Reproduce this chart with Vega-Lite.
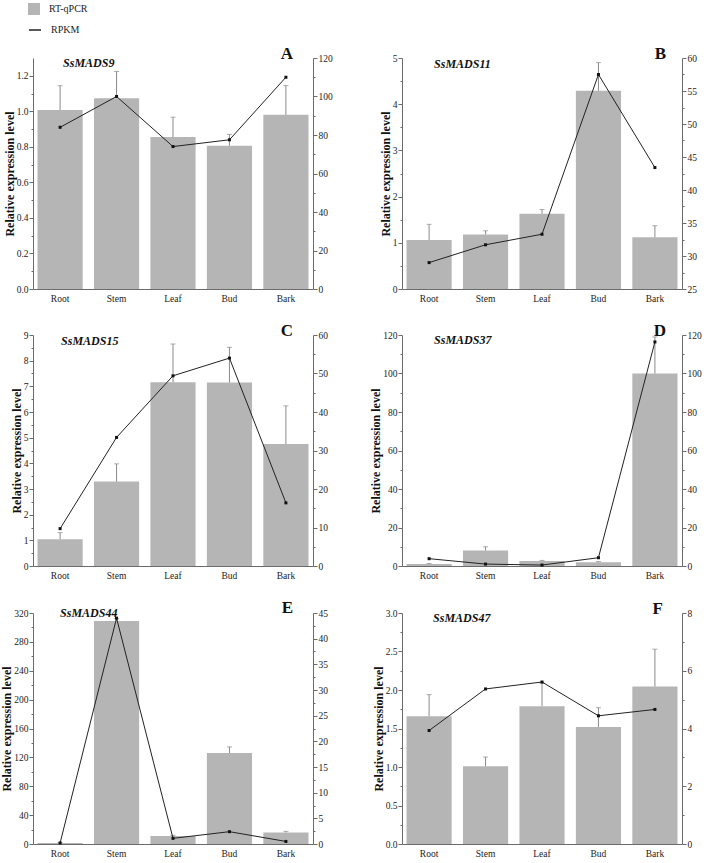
{
  "$schema": "https://vega.github.io/schema/vega-lite/v6.json",
  "padding": {"left": 0, "top": 3, "right": 2, "bottom": 4},
  "background": "white",
  "config": {
    "font": "Liberation Serif",
    "view": {"stroke": null},
    "axis": {"domainColor": "#6b6b6b", "tickColor": "#6b6b6b", "labelFont": "Liberation Serif", "labelFontSize": 9.5, "labelColor": "#222", "grid": false, "tickSize": 3, "labelPadding": 1, "titleFont": "Liberation Serif", "labelOverlap": false, "labelFlush": false},
    "axisY": {"titleFontSize": 12, "titleFontWeight": "bold", "titleColor": "#111", "titlePadding": 0},
    "axisX": {"ticks": false, "labelPadding": 4, "labelAngle": 0},
    "title": {"font": "Liberation Serif", "fontSize": 17, "fontWeight": "bold", "color": "#111", "anchor": "end", "offset": -10, "frame": "group"},
    "legend": {"labelFont": "Liberation Serif", "labelFontSize": 10, "labelColor": "#222"}
  },
  "datasets": {
    "expr": [
      {"panel": "A", "tissue": "Root", "rq": 1.007, "err": 1.144, "rpkm": 84},
      {"panel": "A", "tissue": "Stem", "rq": 1.074, "err": 1.224, "rpkm": 100},
      {"panel": "A", "tissue": "Leaf", "rq": 0.855, "err": 0.967, "rpkm": 74},
      {"panel": "A", "tissue": "Bud", "rq": 0.806, "err": 0.87, "rpkm": 77.5},
      {"panel": "A", "tissue": "Bark", "rq": 0.98, "err": 1.145, "rpkm": 110},
      {"panel": "B", "tissue": "Root", "rq": 1.06, "err": 1.4, "rpkm": 29.0},
      {"panel": "B", "tissue": "Stem", "rq": 1.18, "err": 1.26, "rpkm": 31.7},
      {"panel": "B", "tissue": "Leaf", "rq": 1.63, "err": 1.72, "rpkm": 33.3},
      {"panel": "B", "tissue": "Bud", "rq": 4.29, "err": 4.9, "rpkm": 57.5},
      {"panel": "B", "tissue": "Bark", "rq": 1.12, "err": 1.37, "rpkm": 43.4},
      {"panel": "C", "tissue": "Root", "rq": 1.04, "err": 1.3, "rpkm": 9.7},
      {"panel": "C", "tissue": "Stem", "rq": 3.29, "err": 3.98, "rpkm": 33.4},
      {"panel": "C", "tissue": "Leaf", "rq": 7.16, "err": 8.65, "rpkm": 49.4},
      {"panel": "C", "tissue": "Bud", "rq": 7.15, "err": 8.52, "rpkm": 54.0},
      {"panel": "C", "tissue": "Bark", "rq": 4.75, "err": 6.24, "rpkm": 16.4},
      {"panel": "D", "tissue": "Root", "rq": 1.0, "err": 1.3, "rpkm": 3.8},
      {"panel": "D", "tissue": "Stem", "rq": 8.1, "err": 10.0, "rpkm": 1.0},
      {"panel": "D", "tissue": "Leaf", "rq": 2.6, "err": 2.9, "rpkm": 0.5},
      {"panel": "D", "tissue": "Bud", "rq": 1.9, "err": 2.3, "rpkm": 4.3},
      {"panel": "D", "tissue": "Bark", "rq": 100, "err": 119, "rpkm": 116.4},
      {"panel": "E", "tissue": "Root", "rq": 1.5, "err": 1.8, "rpkm": 0.2},
      {"panel": "E", "tissue": "Stem", "rq": 309, "err": 312, "rpkm": 44.0},
      {"panel": "E", "tissue": "Leaf", "rq": 11, "err": 12, "rpkm": 1.1},
      {"panel": "E", "tissue": "Bud", "rq": 126, "err": 134.5, "rpkm": 2.4},
      {"panel": "E", "tissue": "Bark", "rq": 16, "err": 17.5, "rpkm": 0.5},
      {"panel": "F", "tissue": "Root", "rq": 1.66, "err": 1.94, "rpkm": 3.93},
      {"panel": "F", "tissue": "Stem", "rq": 1.01, "err": 1.13, "rpkm": 5.37},
      {"panel": "F", "tissue": "Leaf", "rq": 1.79, "err": 2.09, "rpkm": 5.61},
      {"panel": "F", "tissue": "Bud", "rq": 1.52, "err": 1.77, "rpkm": 4.44},
      {"panel": "F", "tissue": "Bark", "rq": 2.045, "err": 2.53, "rpkm": 4.66}
    ]
  },
  "data": {"name": "expr"},
  "columns": 2,
  "spacing": {"row": 19, "column": 36},
  "concat": [
    {
      "width": 280, "height": 231,
      "title": {"text": "A", "dx": -20},
      "transform": [{"filter": "datum.panel == 'A'"}],
      "encoding": {"x": {"field": "tissue", "type": "nominal", "sort": ["Root", "Stem", "Leaf", "Bud", "Bark"], "scale": {"paddingInner": 0.2, "paddingOuter": 0.08}, "axis": {"title": null}}},
      "layer": [
        {"mark": {"type": "bar"}, "encoding": {"y": {"field": "rq", "type": "quantitative", "scale": {"domain": [0, 1.3], "nice": false}, "axis": {"title": "Relative expression level", "labelOverlap": false, "values": [0, 0.1, 0.2, 0.3, 0.4, 0.5, 0.6, 0.7, 0.8, 0.9, 1.0, 1.1, 1.2], "labelExpr": "round(datum.value*10)%2==0 ? format(datum.value,'.1f') : ''", "tickSize": {"condition": {"test": "round(datum.value*10)%2==0", "value": 4}, "value": 2}}}, "fill": {"datum": "RT-qPCR", "scale": {"range": ["#b5b5b5"]}, "legend": {"orient": "none", "legendX": -5, "legendY": -55, "title": null, "symbolType": "square", "symbolSize": 144, "symbolStrokeWidth": 0, "labelOffset": 9}}}},
        {"mark": {"type": "rule", "color": "#8a8a8a", "strokeWidth": 1}, "encoding": {"y": {"field": "rq", "type": "quantitative", "scale": {"domain": [0, 1.3], "nice": false}, "axis": null}, "y2": {"field": "err"}}},
        {"mark": {"type": "tick", "color": "#8a8a8a", "thickness": 1, "size": 5}, "encoding": {"y": {"field": "err", "type": "quantitative", "scale": {"domain": [0, 1.3], "nice": false}, "axis": null}}},
        {"transform": [{"filter": "datum.tissue == 'Root'"}], "mark": {"type": "text", "text": "SsMADS9", "fontStyle": "italic", "fontWeight": "bold", "fontSize": 12, "align": "left", "baseline": "middle", "dx": 3, "color": "#111"}, "encoding": {"y": {"datum": 1.27, "scale": {"domain": [0, 1.3], "nice": false}, "axis": null}}},
        {
          "encoding": {"y": {"field": "rpkm", "type": "quantitative", "scale": {"domain": [0, 120], "nice": false}, "axis": {"orient": "right", "title": null, "labelOverlap": false, "values": [0, 10, 20, 30, 40, 50, 60, 70, 80, 90, 100, 110, 120], "labelExpr": "datum.value%20==0 ? datum.label : ''", "tickSize": {"condition": {"test": "datum.value%20==0", "value": 4}, "value": 2}}}},
          "layer": [
            {"mark": {"type": "line", "color": "#222", "strokeWidth": 1}, "encoding": {"stroke": {"datum": "RPKM", "scale": {"range": ["#222"]}, "legend": {"orient": "none", "legendX": -5, "legendY": -35, "title": null, "symbolType": "stroke", "symbolSize": 144, "symbolStrokeWidth": 1.5, "labelOffset": 9}}}},
            {"mark": {"type": "point", "shape": "square", "filled": true, "size": 9, "color": "#111", "opacity": 1}}
          ]
        }
      ],
      "resolve": {"scale": {"y": "independent"}}
    },
    {
      "width": 280, "height": 231,
      "title": {"text": "B", "dx": -16},
      "transform": [{"filter": "datum.panel == 'B'"}],
      "encoding": {"x": {"field": "tissue", "type": "nominal", "sort": ["Root", "Stem", "Leaf", "Bud", "Bark"], "scale": {"paddingInner": 0.2, "paddingOuter": 0.08}, "axis": {"title": null}}},
      "layer": [
        {"mark": {"type": "bar"}, "encoding": {"y": {"field": "rq", "type": "quantitative", "scale": {"domain": [0, 5], "nice": false}, "axis": {"title": "Relative expression level", "labelOverlap": false, "values": [0, 0.5, 1, 1.5, 2, 2.5, 3, 3.5, 4, 4.5, 5], "labelExpr": "datum.value%1==0 ? format(datum.value,'d') : ''", "tickSize": {"condition": {"test": "datum.value%1==0", "value": 4}, "value": 2}}}, "fill": {"datum": "RT-qPCR"}}},
        {"mark": {"type": "rule", "color": "#8a8a8a", "strokeWidth": 1}, "encoding": {"y": {"field": "rq", "type": "quantitative", "scale": {"domain": [0, 5], "nice": false}, "axis": null}, "y2": {"field": "err"}}},
        {"mark": {"type": "tick", "color": "#8a8a8a", "thickness": 1, "size": 5}, "encoding": {"y": {"field": "err", "type": "quantitative", "scale": {"domain": [0, 5], "nice": false}, "axis": null}}},
        {"transform": [{"filter": "datum.tissue == 'Root'"}], "mark": {"type": "text", "text": "SsMADS11", "fontStyle": "italic", "fontWeight": "bold", "fontSize": 12, "align": "left", "baseline": "middle", "dx": 5, "color": "#111"}, "encoding": {"y": {"datum": 4.87, "scale": {"domain": [0, 5], "nice": false}, "axis": null}}},
        {
          "encoding": {"y": {"field": "rpkm", "type": "quantitative", "scale": {"domain": [25, 60], "nice": false, "zero": false}, "axis": {"orient": "right", "title": null, "labelOverlap": false, "values": [25, 27.5, 30, 32.5, 35, 37.5, 40, 42.5, 45, 47.5, 50, 52.5, 55, 57.5, 60], "labelExpr": "datum.value%5==0 ? format(datum.value,'d') : ''", "tickSize": {"condition": {"test": "datum.value%5==0", "value": 4}, "value": 2}}}},
          "layer": [
            {"mark": {"type": "line", "color": "#222", "strokeWidth": 1}, "encoding": {"stroke": {"datum": "RPKM"}}},
            {"mark": {"type": "point", "shape": "square", "filled": true, "size": 9, "color": "#111", "opacity": 1}}
          ]
        }
      ],
      "resolve": {"scale": {"y": "independent"}}
    },
    {
      "width": 280, "height": 231,
      "title": {"text": "C", "dx": -20},
      "transform": [{"filter": "datum.panel == 'C'"}],
      "encoding": {"x": {"field": "tissue", "type": "nominal", "sort": ["Root", "Stem", "Leaf", "Bud", "Bark"], "scale": {"paddingInner": 0.2, "paddingOuter": 0.08}, "axis": {"title": null}}},
      "layer": [
        {"mark": {"type": "bar"}, "encoding": {"y": {"field": "rq", "type": "quantitative", "scale": {"domain": [0, 9], "nice": false}, "axis": {"title": "Relative expression level", "labelOverlap": false, "values": [0, 0.5, 1, 1.5, 2, 2.5, 3, 3.5, 4, 4.5, 5, 5.5, 6, 6.5, 7, 7.5, 8, 8.5, 9], "labelExpr": "datum.value%1==0 ? format(datum.value,'d') : ''", "tickSize": {"condition": {"test": "datum.value%1==0", "value": 4}, "value": 2}}}, "fill": {"datum": "RT-qPCR"}}},
        {"mark": {"type": "rule", "color": "#8a8a8a", "strokeWidth": 1}, "encoding": {"y": {"field": "rq", "type": "quantitative", "scale": {"domain": [0, 9], "nice": false}, "axis": null}, "y2": {"field": "err"}}},
        {"mark": {"type": "tick", "color": "#8a8a8a", "thickness": 1, "size": 5}, "encoding": {"y": {"field": "err", "type": "quantitative", "scale": {"domain": [0, 9], "nice": false}, "axis": null}}},
        {"transform": [{"filter": "datum.tissue == 'Root'"}], "mark": {"type": "text", "text": "SsMADS15", "fontStyle": "italic", "fontWeight": "bold", "fontSize": 12, "align": "left", "baseline": "middle", "dx": 1, "color": "#111"}, "encoding": {"y": {"datum": 8.78, "scale": {"domain": [0, 9], "nice": false}, "axis": null}}},
        {
          "encoding": {"y": {"field": "rpkm", "type": "quantitative", "scale": {"domain": [0, 60], "nice": false}, "axis": {"orient": "right", "title": null, "labelOverlap": false, "values": [0, 5, 10, 15, 20, 25, 30, 35, 40, 45, 50, 55, 60], "labelExpr": "datum.value%10==0 ? datum.label : ''", "tickSize": {"condition": {"test": "datum.value%10==0", "value": 4}, "value": 2}}}},
          "layer": [
            {"mark": {"type": "line", "color": "#222", "strokeWidth": 1}, "encoding": {"stroke": {"datum": "RPKM"}}},
            {"mark": {"type": "point", "shape": "square", "filled": true, "size": 9, "color": "#111", "opacity": 1}}
          ]
        }
      ],
      "resolve": {"scale": {"y": "independent"}}
    },
    {
      "width": 280, "height": 231,
      "title": {"text": "D", "dx": -16},
      "transform": [{"filter": "datum.panel == 'D'"}],
      "encoding": {"x": {"field": "tissue", "type": "nominal", "sort": ["Root", "Stem", "Leaf", "Bud", "Bark"], "scale": {"paddingInner": 0.2, "paddingOuter": 0.08}, "axis": {"title": null}}},
      "layer": [
        {"mark": {"type": "bar"}, "encoding": {"y": {"field": "rq", "type": "quantitative", "scale": {"domain": [0, 120], "nice": false}, "axis": {"title": "Relative expression level", "labelOverlap": false, "values": [0, 10, 20, 30, 40, 50, 60, 70, 80, 90, 100, 110, 120], "labelExpr": "datum.value%20==0 ? datum.label : ''", "tickSize": {"condition": {"test": "datum.value%20==0", "value": 4}, "value": 2}}}, "fill": {"datum": "RT-qPCR"}}},
        {"mark": {"type": "rule", "color": "#8a8a8a", "strokeWidth": 1}, "encoding": {"y": {"field": "rq", "type": "quantitative", "scale": {"domain": [0, 120], "nice": false}, "axis": null}, "y2": {"field": "err"}}},
        {"mark": {"type": "tick", "color": "#8a8a8a", "thickness": 1, "size": 5}, "encoding": {"y": {"field": "err", "type": "quantitative", "scale": {"domain": [0, 120], "nice": false}, "axis": null}}},
        {"transform": [{"filter": "datum.tissue == 'Root'"}], "mark": {"type": "text", "text": "SsMADS37", "fontStyle": "italic", "fontWeight": "bold", "fontSize": 12, "align": "left", "baseline": "middle", "dx": 5, "color": "#111"}, "encoding": {"y": {"datum": 117.5, "scale": {"domain": [0, 120], "nice": false}, "axis": null}}},
        {
          "encoding": {"y": {"field": "rpkm", "type": "quantitative", "scale": {"domain": [0, 120], "nice": false}, "axis": {"orient": "right", "title": null, "labelOverlap": false, "values": [0, 10, 20, 30, 40, 50, 60, 70, 80, 90, 100, 110, 120], "labelExpr": "datum.value%20==0 ? datum.label : ''", "tickSize": {"condition": {"test": "datum.value%20==0", "value": 4}, "value": 2}}}},
          "layer": [
            {"mark": {"type": "line", "color": "#222", "strokeWidth": 1}, "encoding": {"stroke": {"datum": "RPKM"}}},
            {"mark": {"type": "point", "shape": "square", "filled": true, "size": 9, "color": "#111", "opacity": 1}}
          ]
        }
      ],
      "resolve": {"scale": {"y": "independent"}}
    },
    {
      "width": 280, "height": 231,
      "title": {"text": "E", "dx": -20},
      "transform": [{"filter": "datum.panel == 'E'"}],
      "encoding": {"x": {"field": "tissue", "type": "nominal", "sort": ["Root", "Stem", "Leaf", "Bud", "Bark"], "scale": {"paddingInner": 0.2, "paddingOuter": 0.08}, "axis": {"title": null}}},
      "layer": [
        {"mark": {"type": "bar"}, "encoding": {"y": {"field": "rq", "type": "quantitative", "scale": {"domain": [0, 320], "nice": false}, "axis": {"title": "Relative expression level", "labelOverlap": false, "values": [0, 20, 40, 60, 80, 100, 120, 140, 160, 180, 200, 220, 240, 260, 280, 300, 320], "labelExpr": "datum.value%40==0 ? datum.label : ''", "tickSize": {"condition": {"test": "datum.value%40==0", "value": 4}, "value": 2}}}, "fill": {"datum": "RT-qPCR"}}},
        {"mark": {"type": "rule", "color": "#8a8a8a", "strokeWidth": 1}, "encoding": {"y": {"field": "rq", "type": "quantitative", "scale": {"domain": [0, 320], "nice": false}, "axis": null}, "y2": {"field": "err"}}},
        {"mark": {"type": "tick", "color": "#8a8a8a", "thickness": 1, "size": 5}, "encoding": {"y": {"field": "err", "type": "quantitative", "scale": {"domain": [0, 320], "nice": false}, "axis": null}}},
        {"transform": [{"filter": "datum.tissue == 'Root'"}], "mark": {"type": "text", "text": "SsMADS44", "fontStyle": "italic", "fontWeight": "bold", "fontSize": 12, "align": "left", "baseline": "middle", "dx": 0, "color": "#111"}, "encoding": {"y": {"datum": 320, "scale": {"domain": [0, 320], "nice": false}, "axis": null}}},
        {
          "encoding": {"y": {"field": "rpkm", "type": "quantitative", "scale": {"domain": [0, 45], "nice": false}, "axis": {"orient": "right", "title": null, "labelOverlap": false, "values": [0, 2.5, 5, 7.5, 10, 12.5, 15, 17.5, 20, 22.5, 25, 27.5, 30, 32.5, 35, 37.5, 40, 42.5, 45], "labelExpr": "datum.value%5==0 ? format(datum.value,'d') : ''", "tickSize": {"condition": {"test": "datum.value%5==0", "value": 4}, "value": 2}}}},
          "layer": [
            {"mark": {"type": "line", "color": "#222", "strokeWidth": 1}, "encoding": {"stroke": {"datum": "RPKM"}}},
            {"mark": {"type": "point", "shape": "square", "filled": true, "size": 9, "color": "#111", "opacity": 1}}
          ]
        }
      ],
      "resolve": {"scale": {"y": "independent"}}
    },
    {
      "width": 280, "height": 231,
      "title": {"text": "F", "dx": -19},
      "transform": [{"filter": "datum.panel == 'F'"}],
      "encoding": {"x": {"field": "tissue", "type": "nominal", "sort": ["Root", "Stem", "Leaf", "Bud", "Bark"], "scale": {"paddingInner": 0.2, "paddingOuter": 0.08}, "axis": {"title": null}}},
      "layer": [
        {"mark": {"type": "bar"}, "encoding": {"y": {"field": "rq", "type": "quantitative", "scale": {"domain": [0, 3], "nice": false}, "axis": {"title": "Relative expression level", "labelOverlap": false, "values": [0, 0.25, 0.5, 0.75, 1, 1.25, 1.5, 1.75, 2, 2.25, 2.5, 2.75, 3], "labelExpr": "round(datum.value*4)%2==0 ? format(datum.value,'.1f') : ''", "tickSize": {"condition": {"test": "round(datum.value*4)%2==0", "value": 4}, "value": 2}}}, "fill": {"datum": "RT-qPCR"}}},
        {"mark": {"type": "rule", "color": "#8a8a8a", "strokeWidth": 1}, "encoding": {"y": {"field": "rq", "type": "quantitative", "scale": {"domain": [0, 3], "nice": false}, "axis": null}, "y2": {"field": "err"}}},
        {"mark": {"type": "tick", "color": "#8a8a8a", "thickness": 1, "size": 5}, "encoding": {"y": {"field": "err", "type": "quantitative", "scale": {"domain": [0, 3], "nice": false}, "axis": null}}},
        {"transform": [{"filter": "datum.tissue == 'Root'"}], "mark": {"type": "text", "text": "SsMADS47", "fontStyle": "italic", "fontWeight": "bold", "fontSize": 12, "align": "left", "baseline": "middle", "dx": 4, "color": "#111"}, "encoding": {"y": {"datum": 2.94, "scale": {"domain": [0, 3], "nice": false}, "axis": null}}},
        {
          "encoding": {"y": {"field": "rpkm", "type": "quantitative", "scale": {"domain": [0, 8], "nice": false}, "axis": {"orient": "right", "title": null, "labelOverlap": false, "values": [0, 1, 2, 3, 4, 5, 6, 7, 8], "labelExpr": "datum.value%2==0 ? datum.label : ''", "tickSize": {"condition": {"test": "datum.value%2==0", "value": 4}, "value": 2}}}},
          "layer": [
            {"mark": {"type": "line", "color": "#222", "strokeWidth": 1}, "encoding": {"stroke": {"datum": "RPKM"}}},
            {"mark": {"type": "point", "shape": "square", "filled": true, "size": 9, "color": "#111", "opacity": 1}}
          ]
        }
      ],
      "resolve": {"scale": {"y": "independent"}}
    }
  ]
}
